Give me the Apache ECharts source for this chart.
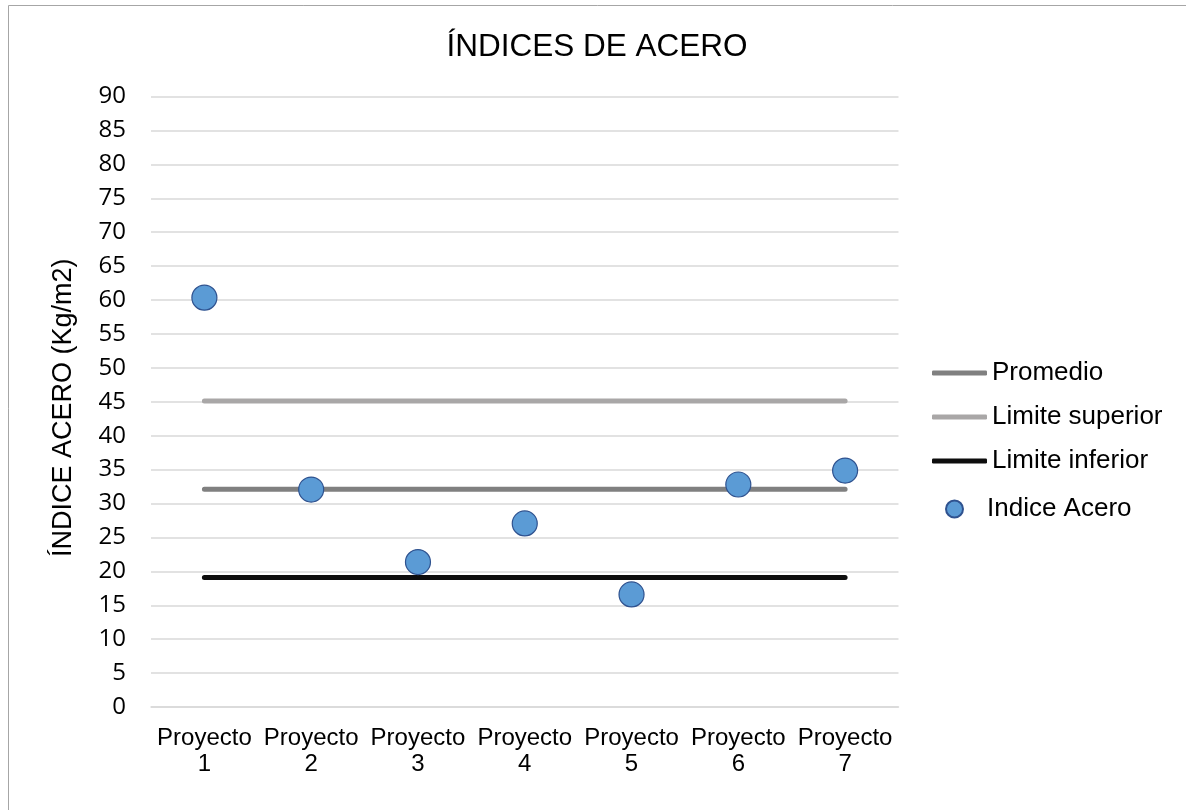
<!DOCTYPE html>
<html>
<head>
<meta charset="utf-8">
<title>Índices de acero</title>
<script src="https://cdn.jsdelivr.net/npm/echarts@6/dist/echarts.min.js"></script>
<style>
  html, body { margin: 0; padding: 0; background: #fff; }
  #chart { width: 1186px; height: 810px; }
</style>
</head>
<body>
<div id="chart"></div>
<script>
// Steel index per project (kg/m2) and the reference lines
const proyectos = ['Proyecto\n1', 'Proyecto\n2', 'Proyecto\n3', 'Proyecto\n4', 'Proyecto\n5', 'Proyecto\n6', 'Proyecto\n7'];
const indiceAcero = [60.35, 32.06, 21.37, 27.06, 16.6, 32.8, 34.85];
const promedio = [32.1, 32.1, 32.1, 32.1, 32.1, 32.1, 32.1];
const limiteSuperior = [45.1, 45.1, 45.1, 45.1, 45.1, 45.1, 45.1];
const limiteInferior = [19.1, 19.1, 19.1, 19.1, 19.1, 19.1, 19.1];
const yMin = 0, yMax = 90, yStep = 5;

const ARIAL = '"Liberation Sans", Arial, sans-serif';
const chart = echarts.init(document.getElementById('chart'), null, { renderer: 'canvas' });

function refLine(name, data, color) {
  return {
    name: name,
    type: 'line',
    data: data,
    symbol: 'none',
    z: 2,
    lineStyle: { color: color, width: 5, cap: 'round' },
    itemStyle: { color: color }
  };
}

chart.setOption({
  animation: false,
  backgroundColor: '#fff',
  title: {
    text: 'ÍNDICES DE ACERO',
    left: 597,
    textAlign: 'center',
    top: 31,
    padding: 0,
    textStyle: { fontFamily: ARIAL, fontSize: 31.5, fontWeight: 'normal', color: '#000' }
  },
  graphic: [{
    type: 'rect',
    shape: { x: 8.5, y: 5.5, width: 1300, height: 900 },
    style: { fill: null, stroke: '#a6a6a6', lineWidth: 1 },
    silent: true
  }],
  legend: [{
    orient: 'vertical',
    left: 927,
    top: 355,
    itemWidth: 55,
    itemHeight: 5,
    itemGap: 18,
    icon: 'roundRect',
    data: ['Promedio', 'Limite superior', 'Limite inferior'],
    textStyle: { fontFamily: ARIAL, fontSize: 26, color: '#000' }
  }, {
    orient: 'vertical',
    left: 940,
    top: 491,
    itemWidth: 55,
    itemHeight: 17,
    icon: 'circle',
    data: ['Indice Acero'],
    textStyle: { fontFamily: ARIAL, fontSize: 26, color: '#000' }
  }],
  grid: { left: 151, right: 287.5, top: 96.5, bottom: 103, containLabel: false },
  xAxis: {
    type: 'category',
    data: proyectos,
    boundaryGap: true,
    axisLine: { show: true, lineStyle: { color: '#d9d9d9', width: 1.5 } },
    axisTick: { show: false },
    axisLabel: {
      interval: 0,
      margin: 18,
      fontFamily: ARIAL,
      fontSize: 24,
      lineHeight: 26,
      color: '#000'
    }
  },
  yAxis: {
    type: 'value',
    min: yMin,
    max: yMax,
    interval: yStep,
    name: 'ÍNDICE ACERO (Kg/m2)',
    nameLocation: 'middle',
    nameRotate: 90,
    nameGap: 74,
    nameTextStyle: { fontFamily: ARIAL, fontSize: 27, color: '#000', padding: [0, 12, 0, 0] },
    axisLine: { show: false },
    axisTick: { show: false },
    splitLine: { lineStyle: { color: '#d9d9d9', width: 1.5 } },
    axisLabel: { margin: 25, fontFamily: '"Open Sans", sans-serif', fontSize: 24, color: '#000' }
  },
  series: [
    refLine('Promedio', promedio, '#808080'),
    refLine('Limite superior', limiteSuperior, '#a9a7a7'),
    refLine('Limite inferior', limiteInferior, '#0d0d0d'),
    {
      name: 'Indice Acero',
      type: 'scatter',
      data: indiceAcero,
      symbol: 'circle',
      symbolSize: 25,
      z: 5,
      itemStyle: { color: '#5b9bd5', borderColor: '#2f528f', borderWidth: 1.2, opacity: 1 }
    }
  ]
});
</script>
</body>
</html>
